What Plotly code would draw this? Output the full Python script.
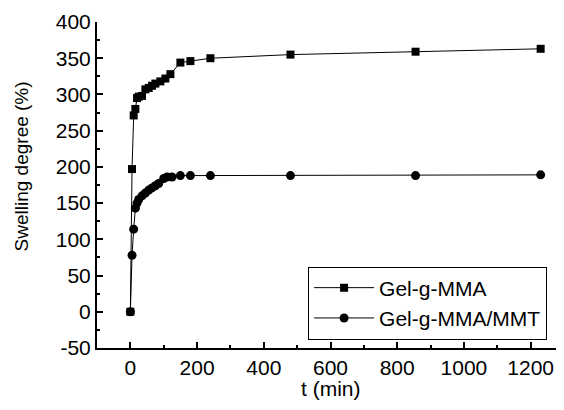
import plotly.graph_objects as go

t_mma = [0, 5, 10, 15, 20, 25, 35, 45, 55, 65, 75, 90, 105, 120, 150, 180, 240, 480, 855, 1230]
sd_mma = [0, 197, 271, 280, 295, 297, 298, 307, 309, 312, 315, 318, 322, 328, 344, 346, 350, 355, 359, 363]

t_mmt = [0, 5, 10, 15, 20, 25, 35, 45, 55, 65, 75, 85, 100, 110, 125, 150, 180, 240, 480, 855, 1230]
sd_mmt = [0, 78, 114, 143, 150, 155, 160, 164, 168, 171, 174, 177, 184, 186, 186, 188, 188, 188, 188, 188, 189]

x_ticks = [0, 200, 400, 600, 800, 1000, 1200]
y_ticks = [-50, 0, 50, 100, 150, 200, 250, 300, 350, 400]
y_ticktext = ["-50", "0", "50", "100", "150", "200", "250", "300", "350", "400"]

font = "Liberation Sans, Arial, sans-serif"

fig = go.Figure()
fig.add_trace(go.Scatter(x=t_mma, y=sd_mma, mode="lines+markers", name="Gel-g-MMA",
                         line=dict(color="black", width=1),
                         marker=dict(symbol="square", size=8, color="black")))
fig.add_trace(go.Scatter(x=t_mmt, y=sd_mmt, mode="lines+markers", name="Gel-g-MMA/MMT",
                         line=dict(color="black", width=1),
                         marker=dict(symbol="circle", size=9, color="black")))

# page body has an 8px margin: compensate so the plot area lands at x 97..564, y 22..348
fig.update_layout(
    width=564, height=410,
    margin=dict(l=89, r=8, t=14, b=70, autoexpand=False),
    paper_bgcolor="white", plot_bgcolor="white",
    font=dict(family=font, size=21, color="black"),
    showlegend=True,
    legend=dict(x=0.452, y=0.25, xanchor="left", yanchor="top",
                bordercolor="black", borderwidth=1, bgcolor="white",
                font=dict(size=21), tracegroupgap=0, itemwidth=60),
    annotations=[
        dict(text="t (min)", xref="paper", yref="paper", x=0.5, y=-0.123,
             xanchor="center", yanchor="middle", showarrow=False, font=dict(size=21)),
        dict(text="Swelling degree (%)", xref="paper", yref="paper", x=-0.162, y=0.558,
             xanchor="center", yanchor="middle", showarrow=False, textangle=-90,
             font=dict(size=19)),
    ],
)
fig.update_xaxes(range=[-100, 1300], tickvals=x_ticks, automargin=False,
                 showline=True, linecolor="black", linewidth=2, mirror=False,
                 ticks="inside", ticklen=6, tickwidth=2, tickcolor="black",
                 minor=dict(dtick=100, tick0=0, ticks="inside", ticklen=3, tickwidth=2, tickcolor="black"),
                 showgrid=False, zeroline=False)
fig.update_yaxes(range=[-50, 400], tickvals=y_ticks, ticktext=y_ticktext, automargin=False,
                 showline=True, linecolor="black", linewidth=2, mirror=False,
                 ticks="inside", ticklen=6, tickwidth=2, tickcolor="black",
                 minor=dict(dtick=25, tick0=0, ticks="inside", ticklen=3, tickwidth=2, tickcolor="black"),
                 showgrid=False, zeroline=False)

fig.write_html("out.html")
